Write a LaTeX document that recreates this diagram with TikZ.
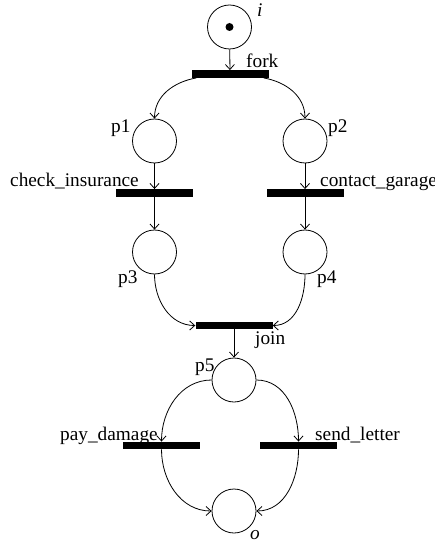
\documentclass[tikz,border=0pt]{standalone}
\usepackage{fontspec}
\setmainfont{Liberation Serif}
\usetikzlibrary{arrows.meta}
\begin{document}
\begin{tikzpicture}[x=1pt,y=-1pt,
  place/.style={circle,draw,line width=0.8pt,minimum size=44pt,inner sep=0pt},
  trans/.style={rectangle,fill=black,minimum width=77pt,minimum height=7.5pt,inner sep=0pt},
  lbl/.style={anchor=base west,inner sep=0pt,font=\fontsize{19.3}{22}\selectfont},
  arc/.style={line width=0.8pt,-{Straight Barb[length=5pt,width=9pt,line width=0.8pt]}}]
\useasboundingbox (0,0) rectangle (434,545);
% places
\node[place] (i) at (229.5,27) {};
\node[circle,fill=black,minimum size=8pt,inner sep=0pt] (tok) at (229.5,27) {};
\node[place] (p1) at (154.5,141) {};
\node[place] (p2) at (305,141) {};
\node[place] (p3) at (154.5,252) {};
\node[place] (p4) at (305,252) {};
\node[place] (p5) at (234,380) {};
\node[place] (o) at (234,511) {};
% transitions
\node[trans] (fork) at (230,74) {};
\node[trans] (ci) at (154.5,193) {};
\node[trans] (cg) at (305,193) {};
\node[trans] (join) at (234,325.5) {};
\node[trans] (pd) at (161.5,445.5) {};
\node[trans] (sl) at (298.5,445.5) {};
% labels
\node[lbl] (li) at (257,17) {\itshape i};
\node[lbl] (lfork) at (246,68) {fork};
\node[lbl] (lp1) at (111,133) {p1};
\node[lbl] (lp2) at (328,133) {p2};
\node[lbl] (lci) at (10,187) {check\_insurance};
\node[lbl] (lcg) at (320,187) {contact\_garage};
\node[lbl] (lp3) at (118,283) {p3};
\node[lbl] (lp4) at (317,283) {p4};
\node[lbl] (ljoin) at (255,344) {join};
\node[lbl] (lp5) at (195,371) {p5};
\node[lbl] (lpd) at (60,440) {pay\_damage};
\node[lbl] (lsl) at (315,440) {send\_letter};
\node[lbl] (lo) at (250,539) {\itshape o};
% arcs
\draw[arc] (i) -- (fork);
\draw[arc] ([xshift=5pt]fork.south west) to[out=190,in=90] (p1.north);
\draw[arc] ([xshift=-5pt]fork.south east) to[out=-10,in=90] (p2.north);
\draw[arc] (p1) -- (ci);
\draw[arc] (p2) -- (cg);
\draw[arc] (ci) -- (p3);
\draw[arc] (cg) -- (p4);
\draw[arc] (p3.south) to[out=-90,in=180] (join.west);
\draw[arc] (p4.south) to[out=-90,in=0] (join.east);
\draw[arc] (join) -- (p5);
\draw[arc] (p5.west) to[out=180,in=90] (pd.north);
\draw[arc] (p5.east) to[out=0,in=90] (sl.north);
\draw[arc] (pd.south) to[out=-90,in=180] (o.west);
\draw[arc] (sl.south) to[out=-90,in=0] (o.east);
\end{tikzpicture}
\end{document}
